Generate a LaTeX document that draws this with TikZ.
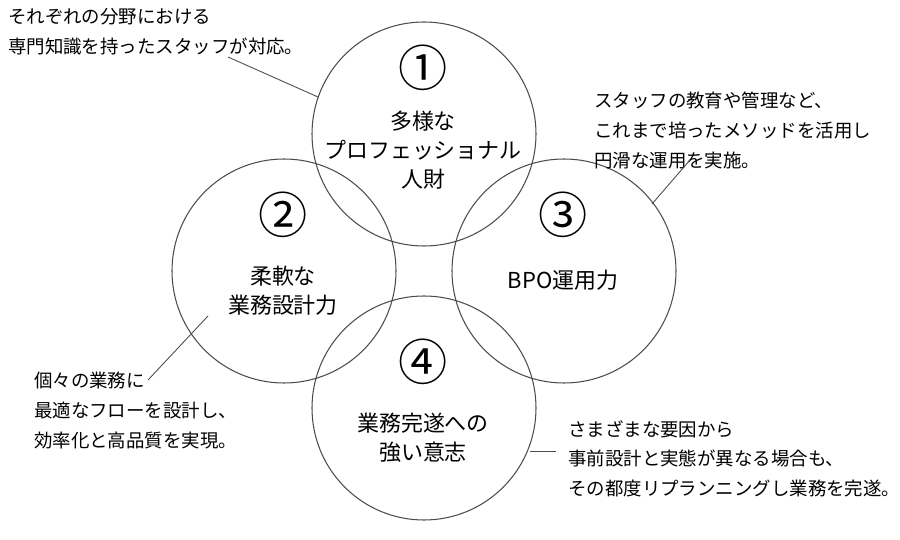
\documentclass[tikz,border=0pt]{standalone}
\usepackage{fontspec}
\setmainfont{Noto Sans CJK JP}
\usetikzlibrary{positioning}
\tikzset{
	ring/.style = {draw=black!70, line width=0.6pt},
	num/.style = {font=\fontsize{28}{28}\selectfont},
	label/.style = {font=\fontsize{12.5}{16.5}\selectfont, align=center},
	note/.style = {font=\fontsize{10.5}{17}\selectfont, align=left},
	lead/.style = {draw=black!70, line width=0.5pt}
}
\begin{document}
\begin{tikzpicture}[x=0.02cm,y=-0.02cm]
	\useasboundingbox (0,0) rectangle (900,540);

	% Circles
	\draw[ring] (424,134) circle (112);
	\draw[ring] (284,271) circle (112);
	\draw[ring] (564,271) circle (112);
	\draw[ring] (424,408) circle (112);

	% Numbers and titles
	\node[num] (n1) at (423,68) {①};
	\node[label] (c1) at (423,150) {多様な\\プロフェッショナル\\人財};
	\node[num] (n2) at (283,215) {②};
	\node[label] (c2) at (283,291) {柔軟な\\業務設計力};
	\node[num] (n3) at (563,215) {③};
	\node[label] (c3) at (563,280) {BPO運用力};
	\node[num] (n4) at (423,362) {④};
	\node[label] (c4) at (423,438) {業務完遂への\\強い意志};

	% Notes
	\node[note, anchor=north west] (t1) at (2,2) {それぞれの分野における\\専門知識を持ったスタッフが対応。};
	\node[note, anchor=north west] (t3) at (588,86) {スタッフの教育や管理など、\\これまで培ったメソッドを活用し\\円滑な運用を実施。};
	\node[note, anchor=north west] (t2) at (28,366) {個々の業務に\\最適なフローを設計し、\\効率化と高品質を実現。};
	\node[note, anchor=north west] (t4) at (562,414) {さまざまな要因から\\事前設計と実態が異なる場合も、\\その都度リプランニングし業務を完遂。};

	% Leaders
	\coordinate (p1) at (228,57);
	\coordinate (q1) at (318,97);
	\draw[lead] (p1) -- (q1);
	\coordinate (p3) at (690,160);
	\coordinate (q3) at (652,204);
	\draw[lead] (p3) -- (q3);
	\coordinate (p2) at (148,380);
	\coordinate (q2) at (208,316);
	\draw[lead] (p2) -- (q2);
	\coordinate (p4) at (530,451);
	\coordinate (q4) at (556,451);
	\draw[lead] (p4) -- (q4);
\end{tikzpicture}
\end{document}
